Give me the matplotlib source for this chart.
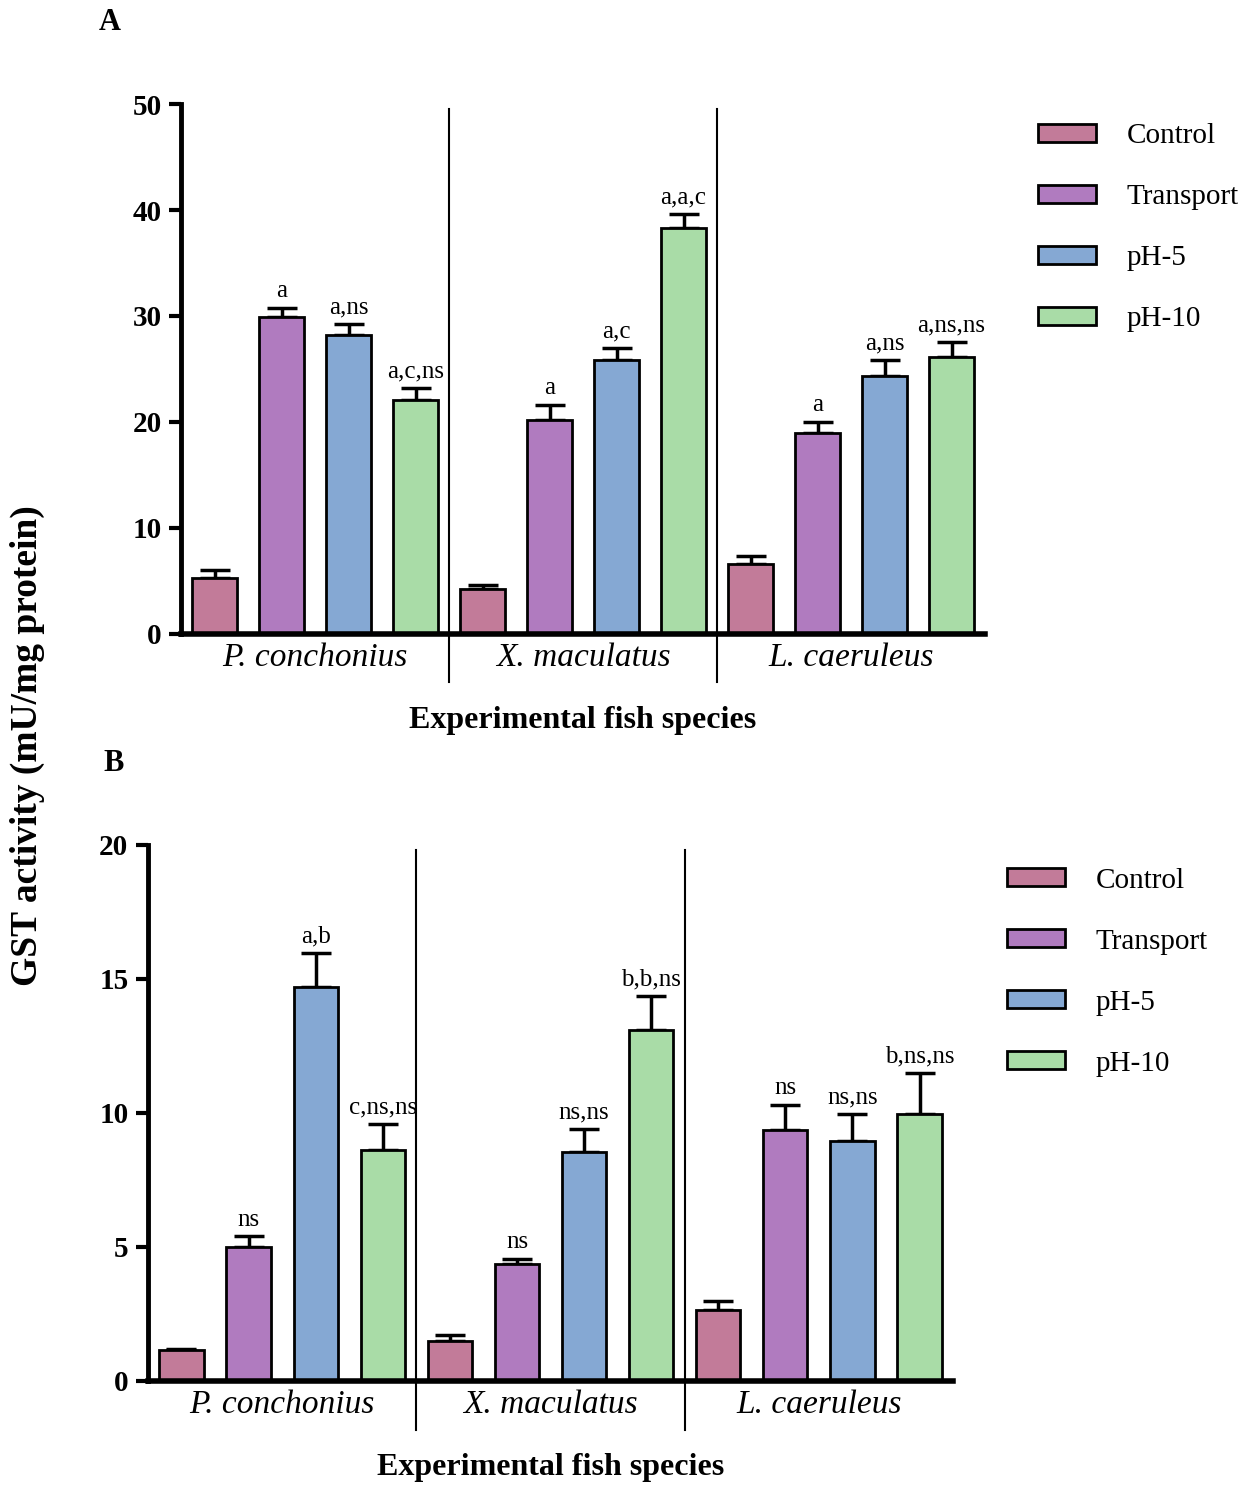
import numpy as np
import matplotlib
matplotlib.use("Agg")
import matplotlib.pyplot as plt
from matplotlib.patches import Patch

plt.rcParams['font.family'] = ['Liberation Serif', 'DejaVu Serif']

# --- data ---
species = ["P. conchonius", "X. maculatus", "L. caeruleus"]
groups = ["Control", "Transport", "pH-5", "pH-10"]
colors = ["#c27b99", "#b07bbf", "#85a8d3", "#a9dca7"]

# panel A (mean, upper SE) per species, order Control, Transport, pH-5, pH-10
a_means = [[5.3, 29.9, 28.2, 22.1],
           [4.2, 20.2, 25.8, 38.3],
           [6.6, 19.0, 24.3, 26.1]]
a_errs = [[0.7, 0.9, 1.0, 1.1],
          [0.4, 1.4, 1.2, 1.3],
          [0.8, 1.0, 1.5, 1.4]]
a_marks = [["", "a", "a,ns", "a,c,ns"],
           ["", "a", "a,c", "a,a,c"],
           ["", "a", "a,ns", "a,ns,ns"]]

b_means = [[1.15, 5.0, 14.7, 8.6],
           [1.5, 4.35, 8.55, 13.1],
           [2.65, 9.35, 8.95, 9.95]]
b_errs = [[0.05, 0.4, 1.25, 1.0],
          [0.2, 0.2, 0.85, 1.25],
          [0.35, 0.95, 1.0, 1.55]]
b_marks = [["", "ns", "a,b", "c,ns,ns"],
           ["", "ns", "ns,ns", "b,b,ns"],
           ["", "ns", "ns,ns", "b,ns,ns"]]


def draw_panel(ax, means, errs, marks, ymax, step):
    means = np.array(means)
    errs = np.array(errs)
    n = len(groups)
    for s in range(len(species)):
        for g in range(n):
            x = s * n + g
            ax.bar(x, means[s, g], width=0.66, color=colors[g],
                   edgecolor="black", linewidth=2, zorder=2)
            ax.errorbar(x, means[s, g], yerr=[[0], [errs[s, g]]], fmt="none",
                        ecolor="black", elinewidth=2.5, capsize=11,
                        capthick=2.5, zorder=1)
            if marks[s][g]:
                ax.annotate(marks[s][g], (x, means[s, g] + errs[s, g]),
                            xytext=(0, 4), textcoords="offset points",
                            ha="center", va="bottom", fontsize=18)
    # separators between species
    for s in range(1, len(species)):
        ax.plot([s * n - 0.5] * 2, [-0.091, 0.99], color="black", lw=1.5,
                transform=ax.get_xaxis_transform(), clip_on=False)
    ax.set_xlim(-0.5, len(species) * n - 0.5)
    ax.set_ylim(0, ymax)
    ax.set_yticks(np.arange(0, ymax + 1, step))
    ax.set_xticks([s * n + 1.5 for s in range(len(species))])
    ax.set_xticklabels(species, fontstyle="italic", fontsize=24)
    ax.tick_params(axis="x", length=0, pad=6)
    ax.tick_params(axis="y", length=9, width=3, labelsize=21, pad=5)
    for lab in ax.get_yticklabels():
        lab.set_fontweight("bold")
    for sp in ["top", "right"]:
        ax.spines[sp].set_visible(False)
    ax.spines["left"].set_linewidth(3.5)
    ax.spines["bottom"].set_linewidth(4)
    ax.set_xlabel("Experimental fish species", fontsize=23, fontweight="bold",
                  labelpad=24)


fig = plt.figure(figsize=(12.58, 14.86), dpi=100)
ax_a = fig.add_axes([0.1439, 0.5734, 0.6391, 0.3566])
ax_b = fig.add_axes([0.1176, 0.0707, 0.6400, 0.3607])

draw_panel(ax_a, a_means, a_errs, a_marks, 50, 10)
draw_panel(ax_b, b_means, b_errs, b_marks, 20, 5)

handles = [Patch(facecolor=c, edgecolor="black", linewidth=2) for c in colors]
for ax, anchor in [(ax_a, (0.8155, 0.925)), (ax_b, (0.791, 0.424))]:
    fig.legend(handles, groups, loc="upper left", bbox_to_anchor=anchor,
               frameon=False, fontsize=21, handlelength=2.0, handleheight=0.55,
               handletextpad=1.05, labelspacing=1.2, borderaxespad=0)

fig.text(0.087, 0.985, "A", fontsize=22, fontweight="bold", ha="center", va="center")
fig.text(0.090, 0.486, "B", fontsize=22, fontweight="bold", ha="center", va="center")
fig.text(0.022, 0.498, "GST activity (mU/mg protein)", fontsize=27,
         fontweight="bold", rotation=90, ha="center", va="center")

fig.savefig("out.png", dpi=100)
